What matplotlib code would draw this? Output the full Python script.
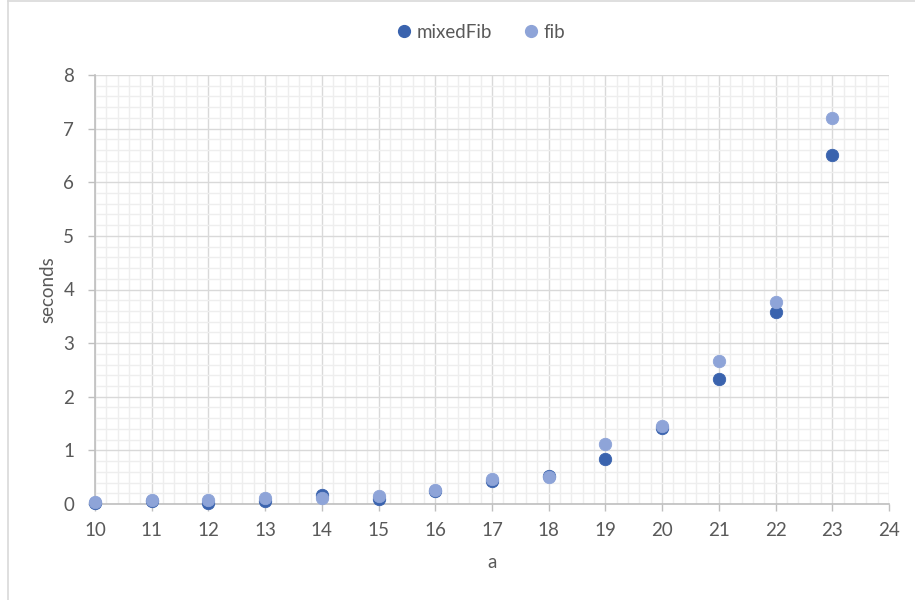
import matplotlib
matplotlib.use("Agg")
import matplotlib.pyplot as plt
from matplotlib.ticker import MultipleLocator
from matplotlib.lines import Line2D

# Timing results for the two Fibonacci implementations
a_values = [10, 11, 12, 13, 14, 15, 16, 17, 18, 19, 20, 21, 22, 23]
mixed_fib = [0.02, 0.05, 0.02, 0.05, 0.16, 0.10, 0.25, 0.42, 0.52, 0.83, 1.41, 2.33, 3.58, 6.51]
fib = [0.03, 0.07, 0.07, 0.12, 0.11, 0.14, 0.26, 0.46, 0.50, 1.11, 1.45, 2.66, 3.77, 7.20]

series_names = ["mixedFib", "fib"]
series_colors = ["#3A63AE", "#8EA4D8"]

x_ticks = list(range(10, 25))
y_ticks = list(range(0, 9))

plt.rcParams["font.family"] = ["Lato", "DejaVu Sans"]
text_color = "#595959"
fs = 13.5

fig = plt.figure(figsize=(9.15, 6.0), dpi=100)
ax = fig.add_axes([95 / 915, 1 - 504 / 600, (889 - 95) / 915, (504 - 75) / 600])

for name, vals, col in zip(series_names, [mixed_fib, fib], series_colors):
    ax.scatter(a_values, vals, s=80, color=col, edgecolors=col, linewidths=0.6,
               zorder=3, label=name, clip_on=False)

ax.set_xlim(10, 24)
ax.set_ylim(0, 8)
ax.set_xticks(x_ticks)
ax.set_yticks(y_ticks)
ax.xaxis.set_minor_locator(MultipleLocator(0.2))
ax.yaxis.set_minor_locator(MultipleLocator(0.2))

ax.grid(which="major", color="#D9D9D9", linewidth=1.0, zorder=1)
ax.grid(which="minor", color="#EEEEEE", linewidth=1.0, zorder=0)
ax.set_axisbelow(True)

for side in ["top", "right"]:
    ax.spines[side].set_visible(False)
for side in ["bottom", "left"]:
    ax.spines[side].set_color("#BFBFBF")
    ax.spines[side].set_linewidth(1.2)

ax.tick_params(which="major", length=5, width=1.0, color="#BFBFBF",
               labelcolor=text_color, labelsize=fs, pad=8)
ax.tick_params(axis="y", which="major", pad=10)
ax.tick_params(which="minor", length=0)

ax.set_xlabel("a", color=text_color, fontsize=fs, labelpad=11)
ax.set_ylabel("seconds", color=text_color, fontsize=fs, labelpad=5)

handles = [Line2D([], [], marker="o", linestyle="", markersize=8.5,
                  markerfacecolor=c, markeredgecolor=c) for c in series_colors]
leg = fig.legend(handles, series_names, loc="center", bbox_to_anchor=(480 / 915, 1 - 32 / 600),
                 ncol=2, frameon=False, fontsize=fs, handletextpad=0.15,
                 columnspacing=1.6, handlelength=1.0)
for t in leg.get_texts():
    t.set_color(text_color)

# chart outline (left and top edges)
fig.add_artist(Line2D([7.5 / 915, 7.5 / 915], [0, 1 - 1 / 600], color="#D9D9D9", linewidth=1.2))
fig.add_artist(Line2D([7.5 / 915, 1], [1 - 1 / 600, 1 - 1 / 600], color="#D9D9D9", linewidth=1.2))

fig.savefig("out.png", dpi=100, facecolor="white")
